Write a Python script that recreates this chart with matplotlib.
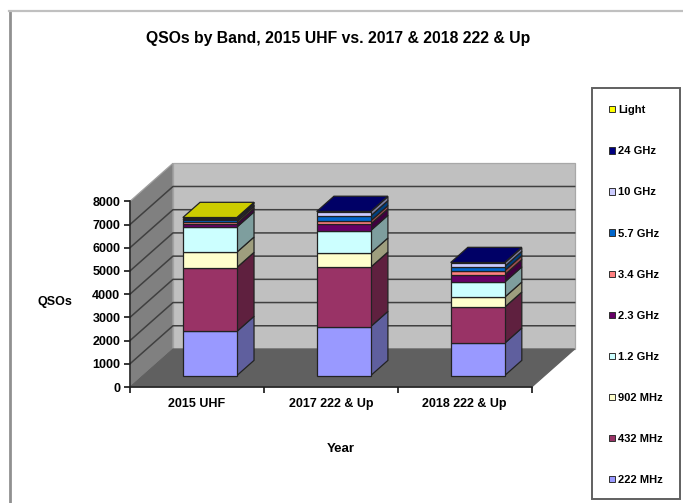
import numpy as np
import matplotlib
matplotlib.use('Agg')
import matplotlib.pyplot as plt
from matplotlib.patches import Polygon, Patch, Rectangle
from matplotlib.lines import Line2D
from matplotlib.colors import to_rgb

plt.rcParams['font.family'] = ['Liberation Sans', 'DejaVu Sans']
plt.rcParams['font.weight'] = 'bold'

years = ['2015 UHF', '2017 222 & Up', '2018 222 & Up']
bands = ['222 MHz', '432 MHz', '902 MHz', '1.2 GHz', '2.3 GHz',
         '3.4 GHz', '5.7 GHz', '10 GHz', '24 GHz', 'Light']
colors = ['#9999FF', '#993366', '#FFFFCC', '#CCFFFF', '#660066',
          '#FF8080', '#0066CC', '#CCCCFF', '#000080', '#FFFF00']

qsos_2015 = [1900, 2755, 660, 1080, 150, 90, 60, 20, 35, 60]
qsos_2017 = [2112, 2558, 603, 977, 276, 142, 215, 170, 20, 0]
qsos_2018 = [1394, 1551, 431, 650, 314, 173, 185, 150, 23, 0]

# 3D look: how far the depth axis moves things, in data units
DEPTH_X = 0.321
DEPTH_Y = 1638
BAR_WIDTH = 0.403
BAR_FRONT = 0.30
BAR_BACK = 0.70
EDGE = '#222222'


def shade(color, factor):
    return tuple(c * factor for c in to_rgb(color))


def project(x, y, d):
    return (x + d * DEPTH_X, y + d * DEPTH_Y)


def face(ax, points, color, z, edge=EDGE, lw=0.9):
    ax.add_patch(Polygon([project(*p) for p in points], closed=True,
                         facecolor=color, edgecolor=edge, linewidth=lw,
                         clip_on=False, zorder=z))


W, H = 683, 503
fig = plt.figure(figsize=(W / 100, H / 100), dpi=100)
ax = fig.add_axes([130 / W, 1 - 387 / H, 401.7 / W, 185.7 / H])
ax.set_xlim(0, 3)
ax.set_ylim(0, 8000)
ax.patch.set_visible(False)

# walls and floor
top = 8000
face(ax, [(0, 0, 1), (3, 0, 1), (3, top, 1), (0, top, 1)], '#C0C0C0', 1, edge='#A8A8A8')
face(ax, [(0, 0, 0), (0, 0, 1), (0, top, 1), (0, top, 0)], '#808080', 1, edge='#A0A0A0')
face(ax, [(0, 0, 0), (3, 0, 0), (3, 0, 1), (0, 0, 1)], '#606060', 1, edge='#606060')

for v in range(1000, 8000, 1000):
    xs, ys = zip(project(0, v, 0), project(0, v, 1), project(3, v, 1))
    ax.plot(xs, ys, color='#404040', lw=1.1, clip_on=False, zorder=2,
            solid_joinstyle='miter')

# stacked boxes, bottom up so that the upper faces cover the lower ones
for i, values in enumerate([qsos_2015, qsos_2017, qsos_2018]):
    x0 = i + 0.5 - BAR_WIDTH / 2
    x1 = x0 + BAR_WIDTH
    base = 0
    last = max(j for j, v in enumerate(values) if v > 0)
    for j, v in enumerate(values):
        if v == 0:
            continue
        y0, y1 = base, base + v
        z = 3 + j * 0.1
        thin = v < 60
        face(ax, [(x1, y0, BAR_FRONT), (x1, y0, BAR_BACK), (x1, y1, BAR_BACK), (x1, y1, BAR_FRONT)],
             shade(colors[j], 0.62), z, lw=0.3 if thin else 0.9)
        face(ax, [(x0, y0, BAR_FRONT), (x1, y0, BAR_FRONT), (x1, y1, BAR_FRONT), (x0, y1, BAR_FRONT)],
             colors[j], z, lw=0.3 if thin else 0.9)
        if j == last:
            face(ax, [(x0, y1, BAR_FRONT), (x1, y1, BAR_FRONT), (x1, y1, BAR_BACK), (x0, y1, BAR_BACK)],
                 shade(colors[j], 0.8), z)
        base = y1

# axes
for side in ['top', 'right']:
    ax.spines[side].set_visible(False)
for side in ['left', 'bottom']:
    ax.spines[side].set_linewidth(1.1)
    ax.spines[side].set_color('#202020')
    ax.spines[side].set_zorder(6)
ax.set_yticks(np.arange(0, 9000, 1000))
ax.set_xticks([0, 1, 2, 3])
ax.set_xticklabels([])
ax.set_xticks([0.5, 1.5, 2.5], labels=years, minor=True)
ax.tick_params(axis='x', which='minor', length=0, labelsize=9, pad=8)
ax.tick_params(axis='x', which='major', length=4, width=1.1)
ax.tick_params(axis='y', length=4, width=1.1, labelsize=9, pad=3)

fig.text(338 / W, 1 - 38 / H, 'QSOs by Band, 2015 UHF vs. 2017 & 2018 222 & Up',
         ha='center', va='center', fontsize=11.3, fontweight='bold')
fig.text(55 / W, 1 - 302 / H, 'QSOs', ha='center', va='center', fontsize=9, fontweight='bold')
fig.text(341 / W, 1 - 449 / H, 'Year', ha='center', va='center', fontsize=9.5, fontweight='bold')

# legend, top entry is the last band; the frame is drawn apart so it keeps its own size
handles = [Patch(facecolor=c, edgecolor='#303030', linewidth=0.7, label=b)
           for b, c in zip(bands[::-1], colors[::-1])]
fig.legend(handles=handles, loc='upper left',
           bbox_to_anchor=(592 / W, 1 - 88 / H),
           fontsize=8, frameon=False,
           handlelength=0.5, handleheight=0.5, handletextpad=0.3,
           labelspacing=2.8, borderpad=1.55, borderaxespad=0)
fig.add_artist(Rectangle((592 / W, 1 - 499 / H), 88 / W, 411 / H, fill=False,
                         edgecolor='#606060', linewidth=1.4,
                         transform=fig.transFigure))

# picture border, only top and left show
fig.add_artist(Line2D([9.5 / W, 9.5 / W], [0, 1 - 11 / H], color='#909090', lw=2))
fig.add_artist(Line2D([9 / W, 1], [1 - 11 / H, 1 - 11 / H], color='#C0C0C0', lw=1.6))

fig.savefig('out.png', dpi=100)
